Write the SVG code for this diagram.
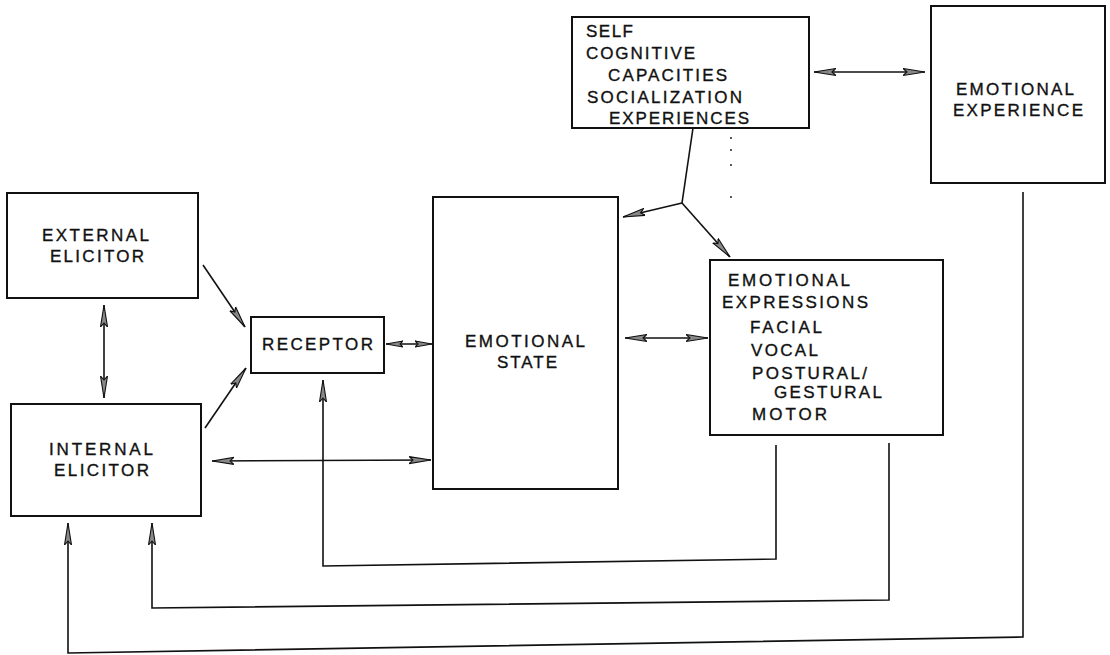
<svg xmlns="http://www.w3.org/2000/svg" width="1110" height="655" viewBox="0 0 1110 655">
<style>
.box{fill:#fff;stroke:#111;stroke-width:2}
.t{font-family:"Liberation Sans",Arial,sans-serif;font-size:17px;fill:#111;stroke:#111;stroke-width:0.35}
.c{fill:none;stroke:#111;stroke-width:1.6}
.dot{fill:#222}
</style>
<defs>
<marker id="ah" viewBox="0 0 22 9" refX="22" refY="4.5" markerWidth="22" markerHeight="9" markerUnits="userSpaceOnUse" orient="auto-start-reverse">
<path d="M0,1 L22,4.5 L0,8 L4,4.5 Z" fill="#888" stroke="#111" stroke-width="1.1"/>
</marker>
<marker id="ahs" viewBox="0 0 17 8" refX="17" refY="4" markerWidth="17" markerHeight="8" markerUnits="userSpaceOnUse" orient="auto-start-reverse">
<path d="M0,1 L17,4 L0,7 L3,4 Z" fill="#888" stroke="#111" stroke-width="1.1"/>
</marker>
</defs>
<rect width="1110" height="655" fill="#fff"/>

<g id="connectors">
<line class="c" x1="203" y1="265" x2="245" y2="327" marker-end="url(#ah)"/>
<line class="c" x1="205" y1="428" x2="246" y2="368" marker-end="url(#ah)"/>
<line class="c" x1="104" y1="305" x2="104" y2="398" marker-start="url(#ah)" marker-end="url(#ah)"/>
<line class="c" x1="386" y1="344" x2="432" y2="344" marker-start="url(#ahs)" marker-end="url(#ahs)"/>
<line class="c" x1="212" y1="461" x2="431" y2="460" marker-start="url(#ah)" marker-end="url(#ah)"/>
<line class="c" x1="625" y1="338" x2="708" y2="338" marker-start="url(#ah)" marker-end="url(#ah)"/>
<line class="c" x1="814" y1="72" x2="925" y2="72" marker-start="url(#ah)" marker-end="url(#ah)"/>
<polyline class="c" points="693,128 682,203"/>
<line class="c" x1="682" y1="203" x2="623" y2="217" marker-end="url(#ah)"/>
<line class="c" x1="682" y1="203" x2="730" y2="257" marker-end="url(#ah)"/>
<polyline class="c" points="776,445 776,559 323,566 323,380" marker-end="url(#ah)"/>
<polyline class="c" points="889,443 889,600 152,608 152,523" marker-end="url(#ah)"/>
<polyline class="c" points="1023,192 1023,637 68,653 68,523" marker-end="url(#ah)"/>
<g id="dots">
<circle class="dot" cx="731" cy="27" r="1"/>
<circle class="dot" cx="731" cy="53" r="1.1"/>
<circle class="dot" cx="731" cy="138" r="1"/>
<circle class="dot" cx="731" cy="150" r="1"/>
<circle class="dot" cx="731" cy="165" r="1"/>
<circle class="dot" cx="731" cy="197" r="1"/>
<circle class="dot" cx="732" cy="376" r="1.2"/>
</g>
</g>

<g id="self">
<rect class="box" x="572" y="17" width="237" height="111"/>
<text class="t" x="586" y="37" textLength="47" lengthAdjust="spacing">SELF</text>
<text class="t" x="586" y="59" textLength="109" lengthAdjust="spacing">COGNITIVE</text>
<text class="t" x="608" y="81" textLength="119" lengthAdjust="spacing">CAPACITIES</text>
<text class="t" x="587" y="103" textLength="155" lengthAdjust="spacing">SOCIALIZATION</text>
<text class="t" x="609" y="124" textLength="140" lengthAdjust="spacing">EXPERIENCES</text>
</g>

<g id="emotional-experience">
<rect class="box" x="931" y="6" width="174" height="177"/>
<text class="t" x="956" y="95" textLength="118" lengthAdjust="spacing">EMOTIONAL</text>
<text class="t" x="953" y="116" textLength="130" lengthAdjust="spacing">EXPERIENCE</text>
</g>

<g id="external-elicitor">
<rect class="box" x="7" y="193" width="191" height="105"/>
<text class="t" x="42" y="241" textLength="107" lengthAdjust="spacing">EXTERNAL</text>
<text class="t" x="50" y="262" textLength="94" lengthAdjust="spacing">ELICITOR</text>
</g>

<g id="internal-elicitor">
<rect class="box" x="11" y="404" width="190" height="112"/>
<text class="t" x="49" y="455" textLength="104" lengthAdjust="spacing">INTERNAL</text>
<text class="t" x="54" y="476" textLength="95" lengthAdjust="spacing">ELICITOR</text>
</g>

<g id="receptor">
<rect class="box" x="251" y="317" width="133" height="56"/>
<text class="t" x="262" y="350" textLength="111" lengthAdjust="spacing">RECEPTOR</text>
</g>

<g id="emotional-state">
<rect class="box" x="433" y="197" width="185" height="292"/>
<text class="t" x="465" y="347" textLength="120" lengthAdjust="spacing">EMOTIONAL</text>
<text class="t" x="497" y="368" textLength="60" lengthAdjust="spacing">STATE</text>
</g>

<g id="emotional-expressions">
<rect class="box" x="710" y="260" width="233" height="175"/>
<text class="t" x="728" y="286" textLength="122" lengthAdjust="spacing">EMOTIONAL</text>
<text class="t" x="722" y="308" textLength="146" lengthAdjust="spacing">EXPRESSIONS</text>
<text class="t" x="750" y="333" textLength="72" lengthAdjust="spacing">FACIAL</text>
<text class="t" x="751" y="356" textLength="67" lengthAdjust="spacing">VOCAL</text>
<text class="t" x="752" y="379" textLength="115" lengthAdjust="spacing">POSTURAL/</text>
<text class="t" x="774" y="398" textLength="108" lengthAdjust="spacing">GESTURAL</text>
<text class="t" x="752" y="420" textLength="75" lengthAdjust="spacing">MOTOR</text>
</g>
</svg>
